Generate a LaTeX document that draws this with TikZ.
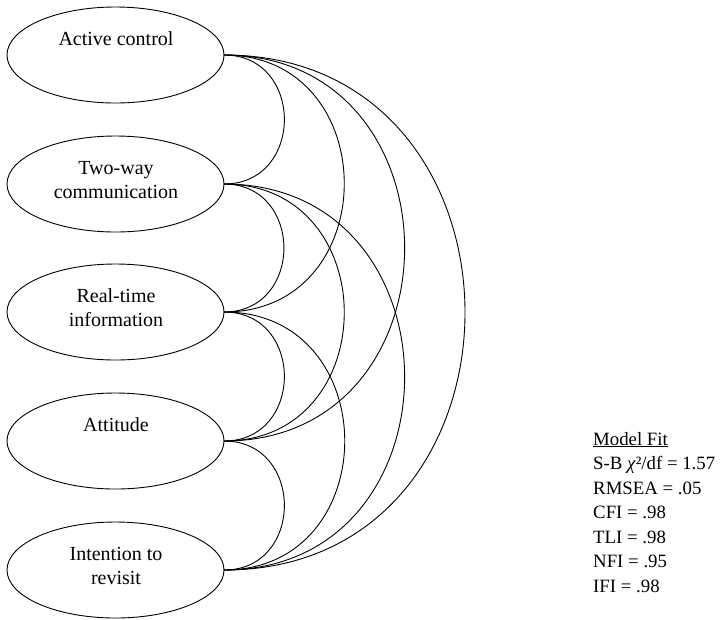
\documentclass[tikz,border=0pt]{standalone}
\usepackage{fontspec}
\setmainfont{Liberation Serif}
\usetikzlibrary{shapes.geometric}
\begin{document}
\begin{tikzpicture}[x=1pt,y=-1pt,
  factor/.style={ellipse, draw, line width=0.9pt, minimum width=217pt, minimum height=96pt, inner sep=0pt, outer sep=0pt},
  ftext/.style={font=\fontsize{20}{24.5}\selectfont, anchor=base, inner sep=0pt},
  fittext/.style={font=\fontsize{18.8}{24.5}\selectfont, anchor=base west, inner sep=0pt},
  cov/.style={line width=0.9pt, out=0, in=0, looseness=1.6}]
\useasboundingbox (0,0) rectangle (727,619);
\node[factor] (e1) at (115.5,55) {};
\node[factor] (e2) at (115.5,184) {};
\node[factor] (e3) at (115.5,312) {};
\node[factor] (e4) at (115.5,441) {};
\node[factor] (e5) at (115.5,570) {};
\node[ftext] (t1) at (116,45) {Active control};
\node[ftext] (t2a) at (116,174) {Two-way};
\node[ftext] (t2b) at (116,198.5) {communication};
\node[ftext] (t3a) at (116,302) {Real-time};
\node[ftext] (t3b) at (116,326.5) {information};
\node[ftext] (t4) at (116,431) {Attitude};
\node[ftext] (t5a) at (116,560) {Intention to};
\node[ftext] (t5b) at (116,584.5) {revisit};
\draw[cov] (e1.east) to (e2.east);
\draw[cov] (e1.east) to (e3.east);
\draw[cov] (e1.east) to (e4.east);
\draw[cov] (e1.east) to (e5.east);
\draw[cov] (e2.east) to (e3.east);
\draw[cov] (e2.east) to (e4.east);
\draw[cov] (e2.east) to (e5.east);
\draw[cov] (e3.east) to (e4.east);
\draw[cov] (e3.east) to (e5.east);
\draw[cov] (e4.east) to (e5.east);
\node[fittext] (m1) at (593,445) {\underline{Model Fit}};
\node[fittext] (m2) at (593,469.5) {S-B \textit{χ}²/df = 1.57};
\node[fittext] (m3) at (593,494) {RMSEA = .05};
\node[fittext] (m4) at (593,518.5) {CFI = .98};
\node[fittext] (m5) at (593,543) {TLI = .98};
\node[fittext] (m6) at (593,567.5) {NFI = .95};
\node[fittext] (m7) at (593,592) {IFI = .98};
\end{tikzpicture}
\end{document}
